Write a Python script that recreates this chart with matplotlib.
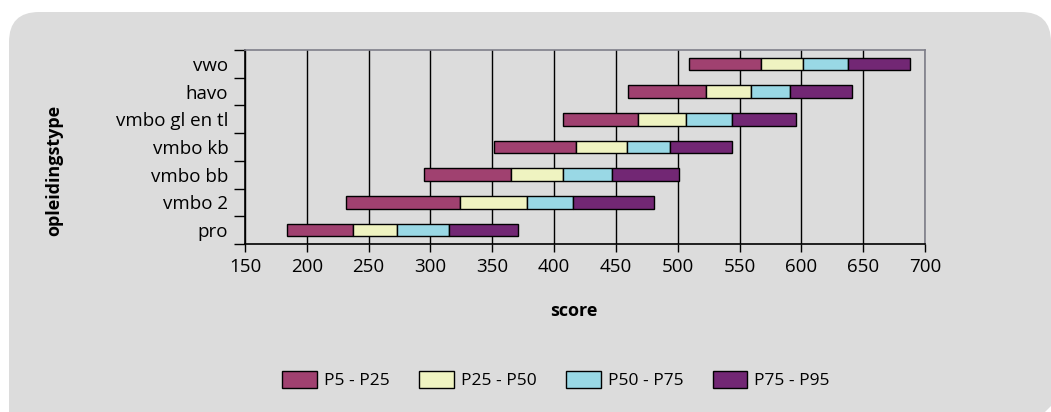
import matplotlib
matplotlib.use("Agg")
import matplotlib.pyplot as plt
import numpy as np
from matplotlib.patches import FancyBboxPatch, Patch, Polygon

plt.rcParams['font.family'] = ['Open Sans', 'DejaVu Sans']

categories = ["pro", "vmbo 2", "vmbo bb", "vmbo kb", "vmbo gl en tl", "havo", "vwo"]
p5 = [184, 232, 295, 351, 407, 460, 509]
p25 = [237, 324, 365, 418, 468, 523, 567]
p50 = [273, 378, 407, 459, 507, 559, 601]
p75 = [315, 415, 447, 494, 544, 591, 638]
p95 = [371, 481, 501, 544, 596, 641, 688]
series_labels = ["P5 - P25", "P25 - P50", "P50 - P75", "P75 - P95"]
colors = ["#a04170", "#eff3c1", "#99d8e5", "#722774"]
xticks = [150, 200, 250, 300, 350, 400, 450, 500, 550, 600, 650, 700]

W, H = 1051, 412
fig = plt.figure(figsize=(W / 100, H / 100), dpi=100)
fig.patch.set_facecolor("white")
panel_col = "#dcdcdc"
panel = FancyBboxPatch((9 / W, -60 / H), (W - 9) / W, (60 + H - 12) / H,
                       boxstyle="round,pad=0,rounding_size=%f" % (30 / W),
                       mutation_aspect=W / H,
                       transform=fig.transFigure, facecolor=panel_col,
                       edgecolor="none", zorder=0)
fig.patches.append(panel)
cut = Polygon([(1 - 6 / W, 0), (1, 0), (1, 6 / H)], closed=True, transform=fig.transFigure,
              facecolor="white", edgecolor="none", zorder=0.5)
fig.patches.append(cut)

ax = fig.add_axes([245 / W, (H - 244) / H, (925 - 245) / W, (244 - 50) / H])
ax.set_zorder(2)
ax.set_facecolor(panel_col)

y = np.arange(len(categories))
bounds = [p5, p25, p50, p75, p95]
for i in range(4):
    left = np.array(bounds[i])
    width = np.array(bounds[i + 1]) - left
    ax.barh(y, width, left=left, height=0.45, color=colors[i], edgecolor="black",
            linewidth=1.0, label=series_labels[i], zorder=3)

ax.set_xlim(150, 700)
ax.set_ylim(-0.5, len(categories) - 0.5)
ax.set_xticks(xticks)
ax.set_xticklabels([str(v) for v in xticks], fontsize=13.5)
ax.set_yticks(y)
ax.set_yticklabels(categories, fontsize=13.5)
ax.set_yticks(np.arange(-0.5, len(categories)), minor=True)
ax.tick_params(axis="y", which="major", length=0, pad=12)
ax.tick_params(axis="y", which="minor", length=8, width=1, color="black", direction="out")
ax.tick_params(axis="x", which="major", length=6, width=1, color="black", direction="out", pad=4)
ax.grid(axis="x", color="black", linewidth=1.0, zorder=1)
ax.set_axisbelow(True)
for s in ["top", "right"]:
    ax.spines[s].set_color("#7f7f8a")
    ax.spines[s].set_linewidth(1.2)
for s in ["left", "bottom"]:
    ax.spines[s].set_color("black")
    ax.spines[s].set_linewidth(1.2)

fig.text(54 / W, 1 - 170 / H, "opleidingstype", rotation=90, ha="center", va="center",
         fontsize=13, fontweight="bold", zorder=3)
fig.text(574 / W, 1 - 311 / H, "score", ha="center", va="center", fontsize=13,
         fontweight="bold", zorder=3)

handles = [Patch(facecolor=colors[i], edgecolor="black", linewidth=1.0) for i in range(4)]
leg = fig.legend(handles, series_labels, loc="center", bbox_to_anchor=(556 / W, 1 - 380 / H),
                 ncol=4, frameon=False, fontsize=12.5, handlelength=2.0, handleheight=1.1,
                 handletextpad=0.4, columnspacing=1.7)
leg.set_zorder(3)

fig.savefig("out.png", dpi=100, facecolor="white")
